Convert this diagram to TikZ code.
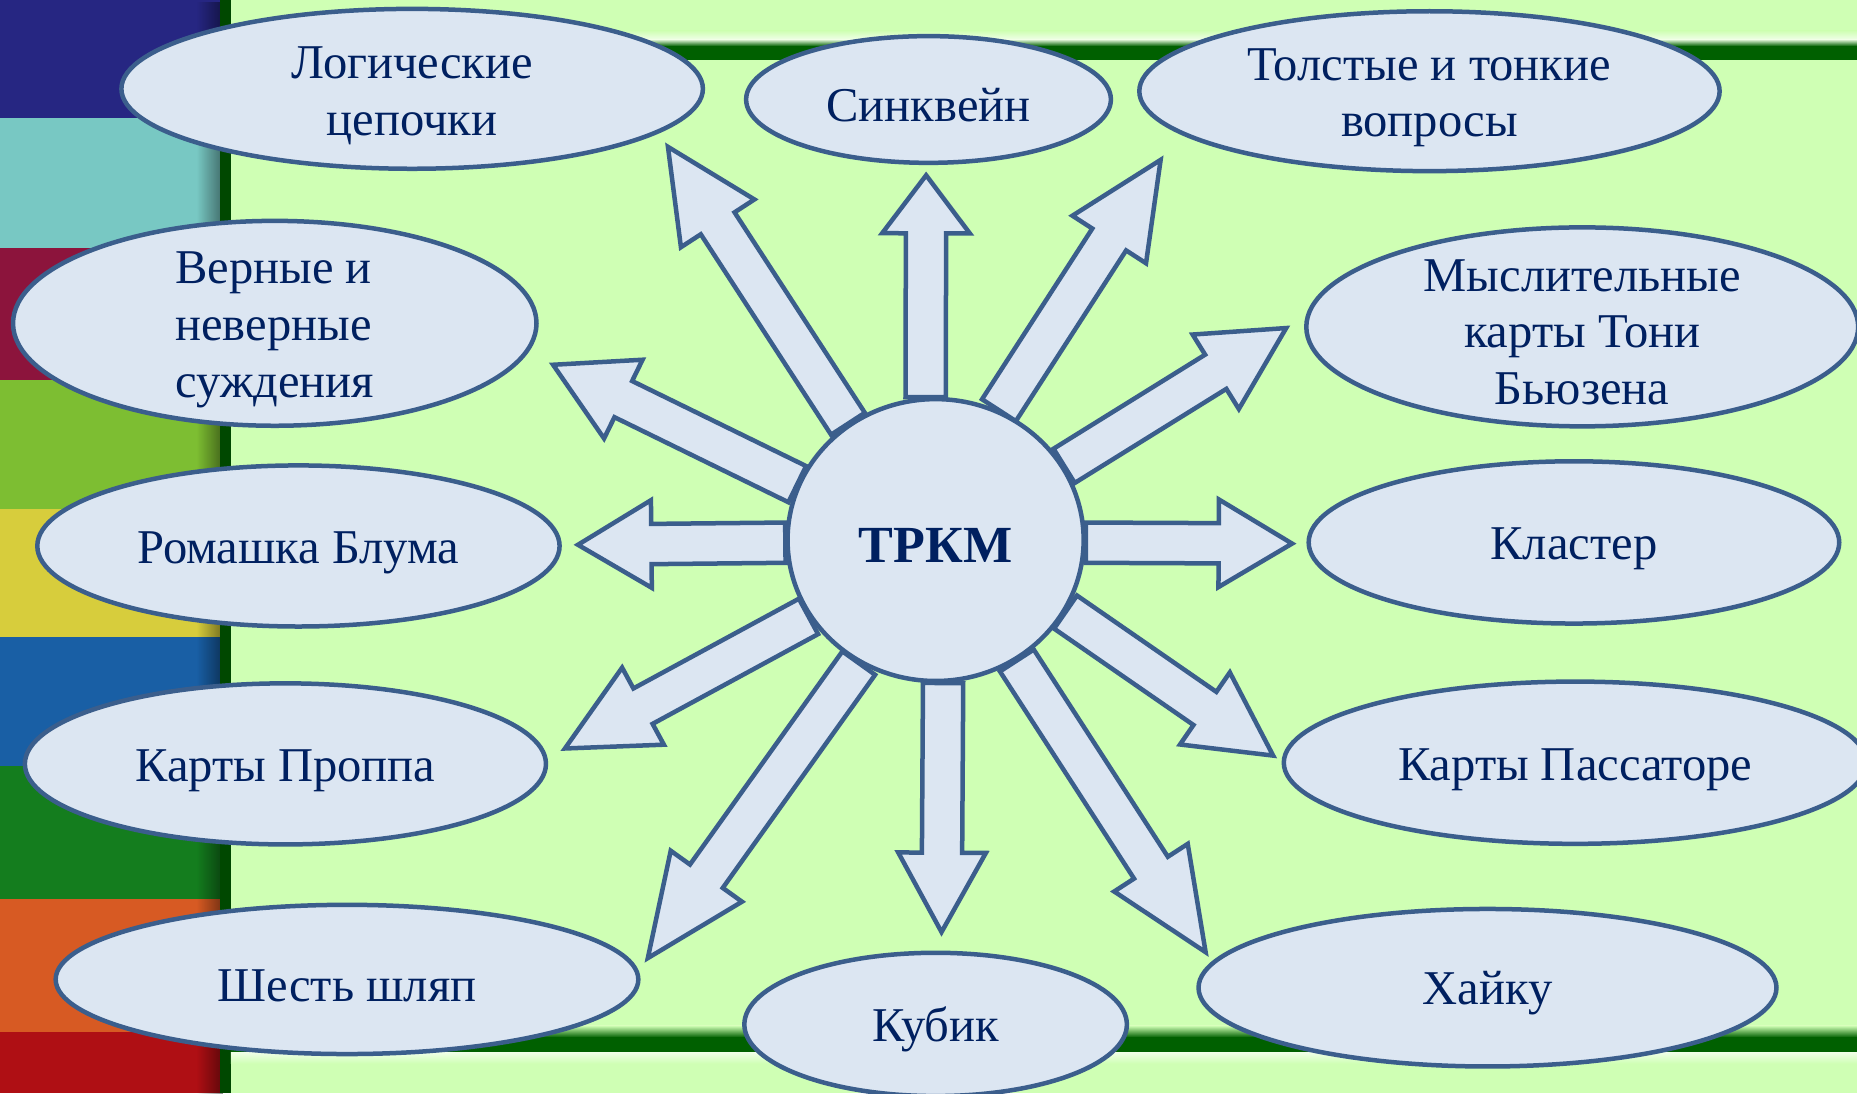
\documentclass[tikz,border=0pt]{standalone}
\usepackage{fontspec}
\setmainfont{Liberation Serif}
\usetikzlibrary{shapes.geometric,calc,fadings}

\definecolor{bg}{RGB}{207,255,180}
\definecolor{dkgreen}{RGB}{0,96,0}
\definecolor{ovalfill}{RGB}{220,230,242}
\definecolor{ovaledge}{RGB}{59,94,140}
\definecolor{ink}{RGB}{0,32,96}
\definecolor{bandA}{RGB}{38,38,130}
\definecolor{bandB}{RGB}{120,200,195}
\definecolor{bandC}{RGB}{140,20,60}
\definecolor{bandD}{RGB}{125,190,50}
\definecolor{bandE}{RGB}{215,205,60}
\definecolor{bandF}{RGB}{25,95,165}
\definecolor{bandG}{RGB}{20,125,30}
\definecolor{bandH}{RGB}{215,90,35}
\definecolor{bandI}{RGB}{175,15,20}

% block arrow: start, tip, head length
\newcommand\blockarrow[3]{%
  \draw[arr] let \p1=($(#2)-(#1)$), \n1={atan2(\y1,\x1)}, \n2={veclen(\x1,\y1)-#3} in
    ($(#1)+(\n1-90:17pt)$) -- ($(#1)+(\n1:\n2)+(\n1-90:17pt)$)
    -- ($(#1)+(\n1:\n2)+(\n1-90:37pt)$) -- (#2)
    -- ($(#1)+(\n1:\n2)+(\n1+90:37pt)$) -- ($(#1)+(\n1:\n2)+(\n1+90:17pt)$)
    -- ($(#1)+(\n1+90:17pt)$) -- cycle;
}

\begin{document}
\begin{tikzpicture}[x=1pt,y=-1pt]
\tikzset{
  oval/.style={ellipse,draw=ovaledge,fill=ovalfill,line width=3.8pt,inner sep=0pt,align=center,text=ink,
    font=\fontsize{41}{48}\selectfont,execute at begin node={\rule{0pt}{38pt}}},
  arr/.style={draw=ovaledge,fill=ovalfill,line width=3.8pt,line join=miter}
}
\path[use as bounding box,clip] (0,0) rectangle (1568,923);

% background
\fill[bg] (0,0) rectangle (1568,923);
\fill[bandA] (0,0) rectangle (188,100);
\fill[bandB] (0,100) rectangle (188,209);
\fill[bandC] (0,209) rectangle (188,321);
\fill[bandD] (0,321) rectangle (188,430);
\fill[bandE] (0,430) rectangle (188,538);
\fill[bandF] (0,538) rectangle (188,647);
\fill[bandG] (0,647) rectangle (188,759);
\fill[bandH] (0,759) rectangle (188,871);
\fill[bandI] (0,871) rectangle (188,923);
\fill[black,opacity=.45,path fading=west] (166,0) rectangle (188,923);
\fill[dkgreen!75!black] (186,0) rectangle (195,923);

% green rules
\shade[top color=bg,bottom color=white!65!bg] (195,26) rectangle (1568,33);
\shade[top color=white!65!bg,bottom color=dkgreen] (195,33) rectangle (1568,39);
\fill[dkgreen] (195,39) rectangle (1568,51);
\shade[top color=bg,bottom color=dkgreen] (195,866) rectangle (1568,876);
\fill[dkgreen] (195,876) rectangle (1568,889);
\shade[top color=white!65!bg,bottom color=bg] (195,889) rectangle (1568,898);

% methods
\node[oval,minimum width=491pt,minimum height=135pt,text height=86pt] (logic) at (348,75) {Логические\\цепочки};
\node[oval,minimum width=308pt,minimum height=107pt] (sink) at (784,84) {Синквейн};
\node[oval,minimum width=490pt,minimum height=135pt,text height=86pt] (tolst) at (1207,77) {Толстые и тонкие\\вопросы};
\node[oval,minimum width=466pt,minimum height=168pt,inner ysep=-14pt,text height=132pt] (mysl) at (1336,276) {Мыслительные\\карты Тони\\Бьюзена};
\node[oval,minimum width=448pt,minimum height=137pt] (klast) at (1329,458) {Кластер};
\node[oval,minimum width=492pt,minimum height=137pt] (passat) at (1330,644) {Карты Пассаторе};
\node[oval,minimum width=488pt,minimum height=133pt] (haiku) at (1256,834) {Хайку};
\node[oval,minimum width=323pt,minimum height=121pt] (kubik) at (790,865) {Кубик};
\node[oval,minimum width=492pt,minimum height=126pt] (shest) at (293,827) {Шесть шляп};
\node[oval,minimum width=440pt,minimum height=136pt] (propp) at (241,645) {Карты Проппа};
\node[oval,minimum width=441pt,minimum height=136pt] (romash) at (252,461) {Ромашка Блума};
\node[oval,minimum width=442pt,minimum height=173pt,inner ysep=-14pt,text height=134pt,align=left] (vern) at (232,273) {Верные и\\неверные\\суждения};

% centre
\node[oval,minimum width=250pt,minimum height=238pt,font=\fontsize{44}{48}\selectfont\bfseries] (trkm) at (790,456) {ТРКМ};

% arrow tips
\coordinate (logic-tip) at (564,124);
\coordinate (sink-tip) at (782,148);
\coordinate (tolst-tip) at (980,135);
\coordinate (mysl-tip) at (1086,277);
\coordinate (klast-tip) at (1091,459);
\coordinate (passat-tip) at (1075,638);
\coordinate (haiku-tip) at (1018,804);
\coordinate (kubik-tip) at (795,787);
\coordinate (shest-tip) at (547,809);
\coordinate (propp-tip) at (477,632);
\coordinate (romash-tip) at (488,460);
\coordinate (vern-tip) at (467,308);

\blockarrow{trkm.127}{logic-tip}{77}
\blockarrow{trkm.94}{sink-tip}{49}
\blockarrow{trkm.64}{tolst-tip}{80}
\blockarrow{trkm.30}{mysl-tip}{70}
\blockarrow{trkm.-1}{klast-tip}{62}
\blockarrow{trkm.-29}{passat-tip}{70}
\blockarrow{trkm.-56}{haiku-tip}{85}
\blockarrow{trkm.-87.5}{kubik-tip}{67}
\blockarrow{trkm.-122}{shest-tip}{85}
\blockarrow{trkm.-149.5}{propp-tip}{75}
\blockarrow{trkm.181.5}{romash-tip}{62}
\blockarrow{trkm.158.7}{vern-tip}{66}
\end{tikzpicture}
\end{document}
